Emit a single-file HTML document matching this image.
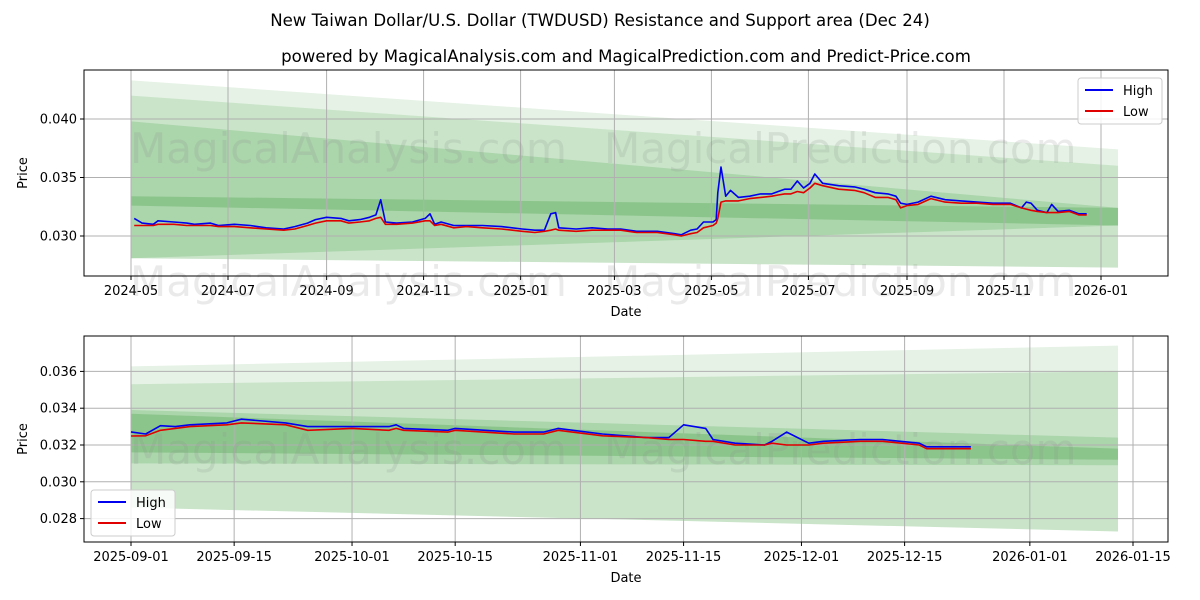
<!DOCTYPE html>
<html><head><meta charset="utf-8"><style>
body{margin:0;background:#fff}
svg{display:block;font-family:"DejaVu Sans","Liberation Sans",sans-serif}
</style></head><body>
<svg id="chart" width="1200" height="600" viewBox="0 0 1200 600" xmlns="http://www.w3.org/2000/svg">
<rect width="1200" height="600" fill="#fff"/>
<text x="600" y="26" text-anchor="middle" font-size="16.6">New Taiwan Dollar/U.S. Dollar (TWDUSD) Resistance and Support area (Dec 24)</text>
<text x="626" y="62" text-anchor="middle" font-size="16.6">powered by MagicalAnalysis.com and MagicalPrediction.com and Predict-Price.com</text>
<g id="top"></g>
<g id="bot"></g>
</svg>
<script>
const topDates=["2024-05-03","2024-05-08","2024-05-15","2024-05-18","2024-05-28","2024-06-05","2024-06-10","2024-06-20","2024-06-25","2024-07-05","2024-07-15","2024-07-25","2024-08-05","2024-08-12","2024-08-20","2024-08-25","2024-09-01","2024-09-10","2024-09-15","2024-09-22","2024-09-28","2024-10-02","2024-10-05","2024-10-08","2024-10-15","2024-10-25","2024-11-02","2024-11-05","2024-11-08","2024-11-12","2024-11-20","2024-11-28","2024-12-08","2024-12-20","2025-01-02","2025-01-10","2025-01-16","2025-01-20","2025-01-23","2025-01-25","2025-02-05","2025-02-15","2025-02-25","2025-03-05","2025-03-15","2025-03-28","2025-04-08","2025-04-12","2025-04-18","2025-04-22","2025-04-26","2025-05-02","2025-05-04","2025-05-05","2025-05-07","2025-05-10","2025-05-13","2025-05-18","2025-05-25","2025-06-01","2025-06-08","2025-06-12","2025-06-16","2025-06-20","2025-06-24","2025-06-28","2025-07-02","2025-07-05","2025-07-10","2025-07-20","2025-07-30","2025-08-05","2025-08-12","2025-08-20","2025-08-25","2025-08-28","2025-09-01","2025-09-08","2025-09-16","2025-09-25","2025-10-05","2025-10-15","2025-10-25","2025-11-05","2025-11-12","2025-11-15","2025-11-18","2025-11-22","2025-11-28","2025-12-01","2025-12-05","2025-12-12","2025-12-18","2025-12-23"];
const topHigh=[0.0315,0.0311,0.0310,0.0313,0.0312,0.0311,0.0310,0.0311,0.0309,0.0310,0.0309,0.0307,0.0306,0.0308,0.0311,0.0314,0.0316,0.0315,0.0313,0.0314,0.0316,0.0318,0.0331,0.0312,0.0311,0.0312,0.0315,0.0319,0.0310,0.0312,0.0309,0.0309,0.0309,0.0308,0.0306,0.0305,0.0305,0.0319,0.0320,0.0307,0.0306,0.0307,0.0306,0.0306,0.0304,0.0304,0.0302,0.0301,0.0305,0.0306,0.0312,0.0312,0.0314,0.0337,0.0359,0.0334,0.0339,0.0333,0.0334,0.0336,0.0336,0.0338,0.0340,0.0340,0.0347,0.0341,0.0345,0.0353,0.0345,0.0343,0.0342,0.0340,0.0337,0.0336,0.0334,0.0328,0.0327,0.0329,0.0334,0.0331,0.0330,0.0329,0.0328,0.0328,0.0324,0.0329,0.0328,0.0322,0.0320,0.0327,0.0321,0.0322,0.0319,0.0319];
const topLow=[0.0309,0.0309,0.0309,0.0310,0.0310,0.0309,0.0309,0.0309,0.0308,0.0308,0.0307,0.0306,0.0305,0.0306,0.0309,0.0311,0.0313,0.0313,0.0311,0.0312,0.0313,0.0315,0.0316,0.0310,0.0310,0.0311,0.0313,0.0313,0.0309,0.0310,0.0307,0.0308,0.0307,0.0306,0.0304,0.0303,0.0304,0.0305,0.0306,0.0305,0.0304,0.0305,0.0305,0.0305,0.0303,0.0303,0.0301,0.0300,0.0302,0.0303,0.0307,0.0309,0.0311,0.0315,0.0329,0.0330,0.0330,0.0330,0.0332,0.0333,0.0334,0.0335,0.0336,0.0336,0.0338,0.0337,0.0341,0.0345,0.0343,0.0340,0.0339,0.0337,0.0333,0.0333,0.0331,0.0324,0.0326,0.0327,0.0332,0.0329,0.0328,0.0328,0.0327,0.0327,0.0324,0.0323,0.0322,0.0321,0.0320,0.0320,0.0320,0.0321,0.0318,0.0318];
const botDays=[0,2,4,6,8,13,15,21,24,30,35,36,37,43,44,52,56,58,64,70,73,75,78,79,82,86,87,89,92,94,99,102,107,108,114];
const botHigh=[0.03271,0.0326,0.03305,0.0330,0.0331,0.0332,0.0334,0.0332,0.0330,0.0330,0.0330,0.0331,0.0329,0.0328,0.0329,0.0327,0.0327,0.0329,0.0326,0.0324,0.0324,0.0331,0.0329,0.0323,0.0321,0.0320,0.0322,0.0327,0.0321,0.0322,0.0323,0.0323,0.0321,0.0319,0.0319];
const botLow=[0.03249,0.0325,0.0328,0.0329,0.0330,0.0331,0.0332,0.0331,0.0328,0.0329,0.0328,0.0329,0.0328,0.0327,0.0328,0.0326,0.0326,0.0328,0.0325,0.0324,0.0323,0.0323,0.0322,0.0322,0.0320,0.0320,0.0321,0.0320,0.0320,0.0321,0.0322,0.0322,0.0320,0.0318,0.0318];
const topBands=[[0.0433,0.0281,0.0374,0.0273],[0.0420,0.0281,0.0360,0.0273],[0.0398,0.0281,0.0324,0.0309],[0.0334,0.0326,0.0324,0.0309]];
const botBands=[[0.03627,0.0286,0.0374,0.0273],[0.0353,0.0286,0.0360,0.0273],[0.0339,0.0310,0.0324,0.0309],[0.0337,0.0316,0.0318,0.0312]];
const bandAlpha=[0.1,0.12,0.15,0.18];
const topYTicks=[0.030,0.035,0.040];
const topXTicks=["2024-05","2024-07","2024-09","2024-11","2025-01","2025-03","2025-05","2025-07","2025-09","2025-11","2026-01"];
const botYTicks=[0.028,0.030,0.032,0.034,0.036];
const botXTicks=["2025-09-01","2025-09-15","2025-10-01","2025-10-15","2025-11-01","2025-11-15","2025-12-01","2025-12-15","2026-01-01","2026-01-15"];

const NS="http://www.w3.org/2000/svg";
function mk(p,tag,at,txt){const e=document.createElementNS(NS,tag);for(const k in at)e.setAttribute(k,at[k]);if(txt!==undefined)e.textContent=txt;p.appendChild(e);return e;}
const day=s=>Date.parse(s+(s.length===7?"-01":""))/864e5;

function panel(g,o){
  const {x0,x1,y0,y1}=o;
  o.bands.forEach((b,i)=>{
    const pts=[[o.bx0,b[0]],[o.bx1,b[2]],[o.bx1,b[3]],[o.bx0,b[1]]].map(p=>p[0]+","+o.Y(p[1])).join(" ");
    const e=mk(g,"polygon",{points:pts,fill:"rgb(0,128,0)","fill-opacity":bandAlpha[i]});
    
    
  });
  o.yt.forEach(v=>{const y=o.Y(v);
    mk(g,"line",{x1:x0,x2:x1,y1:y,y2:y,stroke:"#b0b0b0","stroke-width":1});
    mk(g,"line",{x1:x0-4,x2:x0,y1:y,y2:y,stroke:"#000"});
    const t=mk(g,"text",{x:x0-7,y:y+4.5,"text-anchor":"end","font-size":13},v.toFixed(3));
    
    
  });
  o.xt.forEach(s=>{const x=o.X(s);
    mk(g,"line",{x1:x,x2:x,y1:y0,y2:y1,stroke:"#b0b0b0","stroke-width":1});
    mk(g,"line",{x1:x,x2:x,y1:y1,y2:y1+4,stroke:"#000"});
    const t=mk(g,"text",{x:x,y:y1+19,"text-anchor":"middle","font-size":13},s);
    
    
  });
  o.wm.forEach(w=>{const t=mk(g,"text",{x:w[0],y:w[1],"font-size":42,fill:"#888","fill-opacity":0.18},w[2]);
    
    });
  [[o.high,"#0000ee","high-line"],[o.low,"#e00000","low-line"]].forEach(s=>{
    const d=o.xs.map((x,i)=>(i?"L":"M")+x.toFixed(1)+","+o.Y(s[0][i]).toFixed(1)).join("");
    const p=mk(g,"path",{d:d,fill:"none",stroke:s[1],"stroke-width":1.6,"stroke-linejoin":"round"});
    
    
  });
  mk(g,"rect",{x:x0,y:y0,width:x1-x0,height:y1-y0,fill:"none",stroke:"#000","stroke-width":1});
  const xl=mk(g,"text",{x:(x0+x1)/2,y:y1+40,"text-anchor":"middle","font-size":13},"Date");
  
  
  const yl=mk(g,"text",{x:0,y:0,"text-anchor":"middle","font-size":13,transform:`translate(${o.ylx},${(y0+y1)/2}) rotate(-90)`},"Price");
  
  
  const L=o.leg;
  const lg=mk(g,"g",{});
  
  
  mk(lg,"rect",{x:L[0],y:L[1],width:84,height:46,rx:3,fill:"#fff","fill-opacity":0.85,stroke:"#ccc"});
  [["High","#0000ee"],["Low","#e00000"]].forEach((e,i)=>{
    const yy=L[1]+12+i*21;
    mk(lg,"line",{x1:L[0]+7,x2:L[0]+35,y1:yy,y2:yy,stroke:e[1],"stroke-width":2});
    const t=mk(lg,"text",{x:L[0]+45,y:yy+5,"font-size":13},e[0]);
    
    
  });
}
const tX=s=>131+(day(s)-day("2024-05-01"))*970/(day("2026-01-01")-day("2024-05-01"));
const tY=v=>236-(v-0.030)*11700;
panel(document.getElementById("top"),{x0:84,x1:1168,y0:70,y1:276,X:tX,Y:tY,bx0:131,bx1:1118,bands:topBands,yt:topYTicks,xt:topXTicks,
  xs:topDates.map(tX),high:topHigh,low:topLow,ylx:27,leg:[1078,78],
  wm:[[130,163,"MagicalAnalysis.com"],[604,163,"MagicalPrediction.com"],[130,296,"MagicalAnalysis.com"],[604,296,"MagicalPrediction.com"]]});
const bX=s=>131+(day(s)-day("2025-09-01"))*(1133-131)/(day("2026-01-15")-day("2025-09-01"));
const bY=v=>445-(v-0.032)*18400;
panel(document.getElementById("bot"),{x0:84,x1:1168,y0:336,y1:542,X:bX,Y:bY,bx0:131,bx1:1118,bands:botBands,yt:botYTicks,xt:botXTicks,
  xs:botDays.map(d=>131+d*(1133-131)/136),high:botHigh,low:botLow,ylx:27,leg:[91,490],
  wm:[[130,464,"MagicalAnalysis.com"],[604,464,"MagicalPrediction.com"]]});
</script>
</body></html>
